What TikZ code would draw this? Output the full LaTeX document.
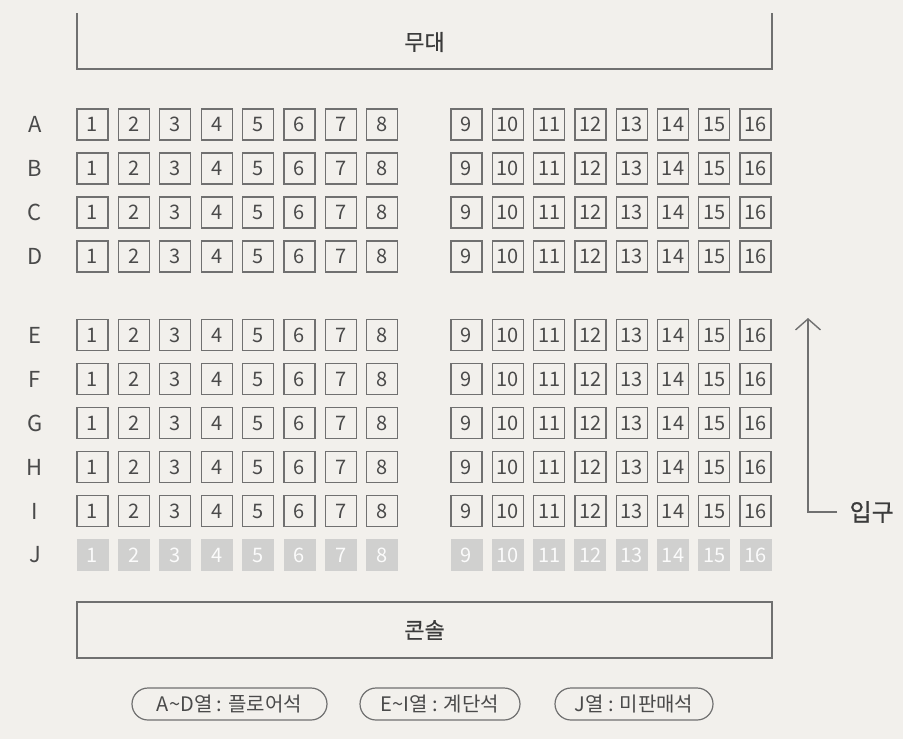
\documentclass[tikz,border=0pt]{standalone}
\usepackage{fontspec}
\setmainfont{Noto Sans CJK KR}
\newfontfamily\krmedium[FakeBold=0.6]{Noto Sans CJK KR}
\usetikzlibrary{arrows.meta}
\definecolor{paper}{HTML}{F2F0EC}
\definecolor{ink}{HTML}{707070}
\definecolor{txt}{HTML}{4A4A4A}
\definecolor{nosale}{HTML}{D0D0CF}
\tikzset{
  seat/.style={draw=ink, line width=1.3pt, minimum width=31pt, minimum height=31pt, inner sep=0pt, text=txt, font=\fontsize{20}{20}\selectfont},
  greyseat/.style={fill=nosale, minimum width=32pt, minimum height=32pt, inner sep=0pt, text=white!92!nosale, font=\fontsize{20}{20}\selectfont},
  rowlabel/.style={text=txt, font=\fontsize{22}{22}\selectfont},
  bigbox/.style={draw=ink, line width=1.4pt},
  title/.style={text=txt!80!black, font=\krmedium\fontsize{22}{22}\selectfont},
  pill/.style={draw=ink, line width=1.2pt, rounded corners=16pt, minimum height=32pt, inner sep=0pt, text=txt, font=\fontsize{20}{20}\selectfont},
  conn/.style={draw=ink, line width=1.4pt}
}
\begin{document}
\begin{tikzpicture}[x=1pt,y=-1pt]
\fill[paper] (0,0) rectangle (903,739);
\useasboundingbox (0,0) rectangle (903,739);
% stage
\coordinate (stl) at (77,13);
\coordinate (str) at (772,13);
\draw[bigbox] (stl) -- (77,69) -- (772,69) -- (str);
\node[title] (stage) at (424.5,42) {무대};
% rows
\foreach \r/\y in {A/124.5,B/168.5,C/212.5,D/256.5,E/335,F/379,G/423,H/467,I/511}{
  \node[rowlabel] (lab\r) at (35,\y) {\r};
  \foreach \n in {1,...,8}{
    \node[seat] (s\r\n) at ({92.5+41.4*(\n-1)},\y) {\n};
  }
  \foreach \n in {9,...,16}{
    \node[seat] (s\r\n) at ({466.5+41.3*(\n-9)},\y) {\n};
  }
}
\node[rowlabel] (labJ) at (35,555) {J};
\foreach \n in {1,...,8}{
  \node[greyseat] (sJ\n) at ({92.5+41.4*(\n-1)},555) {\n};
}
\foreach \n in {9,...,16}{
  \node[greyseat] (sJ\n) at ({466.5+41.3*(\n-9)},555) {\n};
}
% entrance
\node[title, anchor=west, font=\krmedium\fontsize{24}{24}\selectfont] (entr) at (846,512) {입구};
\coordinate (atop) at (808,318);
\draw[conn, -{Straight Barb[length=11pt,width=25pt]}] (entr.west) ++(-9,0) coordinate (ebend0) -| (atop);
% console
\node[bigbox, minimum width=695pt, minimum height=56pt, inner sep=0pt] (console) at (424.5,630) {};
\node[title] (consoletxt) at (console.center) {콘솔};
% legend
\node[pill, minimum width=195pt] (lg1) at (229.5,704) {A\textasciitilde D열 : 플로어석};
\node[pill, minimum width=160pt] (lg2) at (440,704) {E\textasciitilde I열 : 계단석};
\node[pill, minimum width=158pt] (lg3) at (634,704) {J열 : 미판매석};
\end{tikzpicture}
\end{document}
